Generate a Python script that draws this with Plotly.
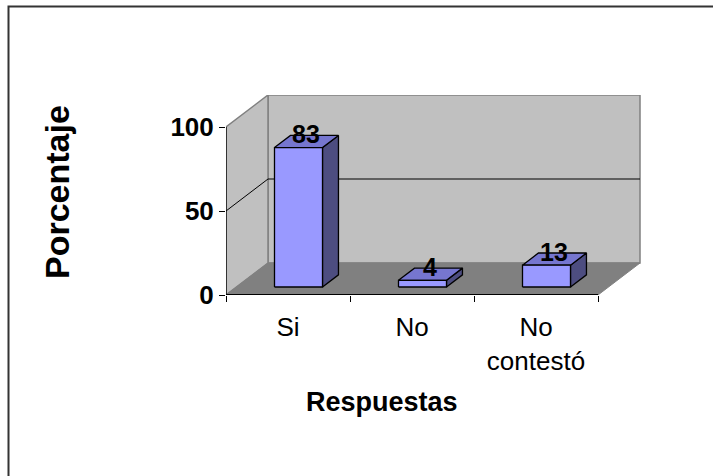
import plotly.graph_objects as go

# ---- data ----
categories = ["Si", "No", "No<br>contestó"]
values = [83, 4, 13]
y_ticks = [0, 50, 100]

# ---- 3D geometry (in data units) ----
W_PX, H_PX = 713, 476
L, R, T, B = 226, 71, 95, 181
CAT_PX = 124.0
VAL_PX = 1.68
DX = 42 / CAT_PX          # depth shift along x (categories)
DY = 32 / VAL_PX          # depth shift along y (values)
X0, X1 = -0.5, len(categories) - 0.5
YMAX = 100
BAR_W = 48 / CAT_PX
F0, F1 = 0.25, 0.63

FONT = "Arial, Liberation Sans, sans-serif"
WALL = "#c0c0c0"
FLOOR = "#808080"
EDGE = "#808080"
C_FRONT = "#9999ff"
C_TOP = "#7676cf"
C_SIDE = "#4d4d80"

fig = go.Figure()


def poly(xs, ys, fill, line_color, line_w=1):
    fig.add_trace(go.Scatter(
        x=xs + [xs[0]], y=ys + [ys[0]], mode="lines", fill="toself",
        fillcolor=fill, line=dict(color=line_color, width=line_w),
        hoverinfo="skip", showlegend=False))


def line(xs, ys, color, w=1):
    fig.add_trace(go.Scatter(x=xs, y=ys, mode="lines",
                             line=dict(color=color, width=w),
                             hoverinfo="skip", showlegend=False))


# back wall
poly([X0 + DX, X1 + DX, X1 + DX, X0 + DX],
     [DY, DY, YMAX + DY, YMAX + DY], WALL, EDGE, 1.5)
# left side wall
poly([X0, X0 + DX, X0 + DX, X0],
     [0, DY, YMAX + DY, YMAX], WALL, EDGE, 1.5)
# floor
poly([X0, X1, X1 + DX, X0 + DX],
     [0, 0, DY, DY], FLOOR, FLOOR, 1)

# gridlines (interior ticks)
for v in y_ticks[1:-1]:
    line([X0, X0 + DX, X1 + DX], [v, v + DY, v + DY], "#000000", 1)

# bars
for i, v in enumerate(values):
    xa = i - BAR_W / 2
    xb = i + BAR_W / 2
    # side
    poly([xb + F0 * DX, xb + F1 * DX, xb + F1 * DX, xb + F0 * DX],
         [F0 * DY, F1 * DY, v + F1 * DY, v + F0 * DY], C_SIDE, "#000000", 1.3)
    # top
    poly([xa + F0 * DX, xb + F0 * DX, xb + F1 * DX, xa + F1 * DX],
         [v + F0 * DY, v + F0 * DY, v + F1 * DY, v + F1 * DY], C_TOP, "#000000", 1.3)
    # front
    poly([xa + F0 * DX, xb + F0 * DX, xb + F0 * DX, xa + F0 * DX],
         [F0 * DY, F0 * DY, v + F0 * DY, v + F0 * DY], C_FRONT, "#000000", 1.3)

# front axis lines
line([X0, X0], [0, YMAX], "#000000", 1.3)
line([X0, X1], [0, 0], "#000000", 1.8)

annotations = []
fm = (F0 + F1) / 2
for i, v in enumerate(values):
    annotations.append(dict(
        x=i + fm * DX, y=v + fm * DY, xref="x", yref="y", text="<b>%d</b>" % v,
        showarrow=False, yanchor="middle", yshift=7,
        font=dict(family=FONT, size=25, color="#000000")))

pw = W_PX - L - R
ph = H_PX - T - B
annotations.append(dict(
    x=(382 - L) / pw, y=((H_PX - B) - 402) / ph,
    xref="paper", yref="paper", text="<b>Respuestas</b>", showarrow=False,
    xanchor="center", yanchor="middle",
    font=dict(family=FONT, size=27, color="#000000")))
annotations.append(dict(
    x=(57 - L) / pw, y=((H_PX - B) - 192) / ph,
    xref="paper", yref="paper", text="<b>Porcentaje</b>", showarrow=False,
    textangle=-90, xanchor="center", yanchor="middle",
    font=dict(family=FONT, size=34, color="#000000")))

fig.update_layout(
    width=W_PX, height=H_PX,
    margin=dict(l=L, r=R, t=T, b=B, pad=0),
    paper_bgcolor="white", plot_bgcolor="white",
    showlegend=False,
    annotations=annotations,
    shapes=[dict(type="rect", xref="paper", yref="paper",
                 x0=(8.5 - L) / pw, x1=(730 - L) / pw,
                 y0=((H_PX - B) - 490) / ph, y1=((H_PX - B) - 6.5) / ph,
                 line=dict(color="#333333", width=2), fillcolor="rgba(0,0,0,0)",
                 layer="below")],
    xaxis=dict(range=[X0, X0 + pw / CAT_PX], tickvals=list(range(len(categories))),
               ticktext=categories, ticks="", showgrid=False, zeroline=False,
               showline=False, ticklabelstandoff=14,
               tickfont=dict(family=FONT, size=26, color="#000000"),
               fixedrange=True),
    xaxis2=dict(range=[X0, X0 + pw / CAT_PX], overlaying="x", anchor="y",
                side="bottom",
                tickvals=[X0 + k for k in range(len(categories) + 1)],
                ticks="outside", ticklen=6, tickwidth=1.3, tickcolor="#000000",
                showticklabels=False, showgrid=False, zeroline=False,
                showline=False),
    yaxis=dict(range=[0, ph / VAL_PX], tickvals=y_ticks,
               ticktext=[str(t) for t in y_ticks],
               ticks="outside", ticklen=6, tickwidth=1.3, tickcolor="#000000",
               showgrid=False, zeroline=False, showline=False,
               tickfont=dict(family=FONT, size=26, color="#000000", weight="bold"),
               fixedrange=True),
)
# invisible trace so the boundary tick axis renders
fig.add_trace(go.Scatter(x=[X0], y=[0], xaxis="x2", mode="markers",
                         marker=dict(opacity=0), hoverinfo="skip", showlegend=False))

fig.write_html("out.html", config={"displayModeBar": False},
               post_script="document.body.style.margin='0';document.body.style.overflow='hidden';")
